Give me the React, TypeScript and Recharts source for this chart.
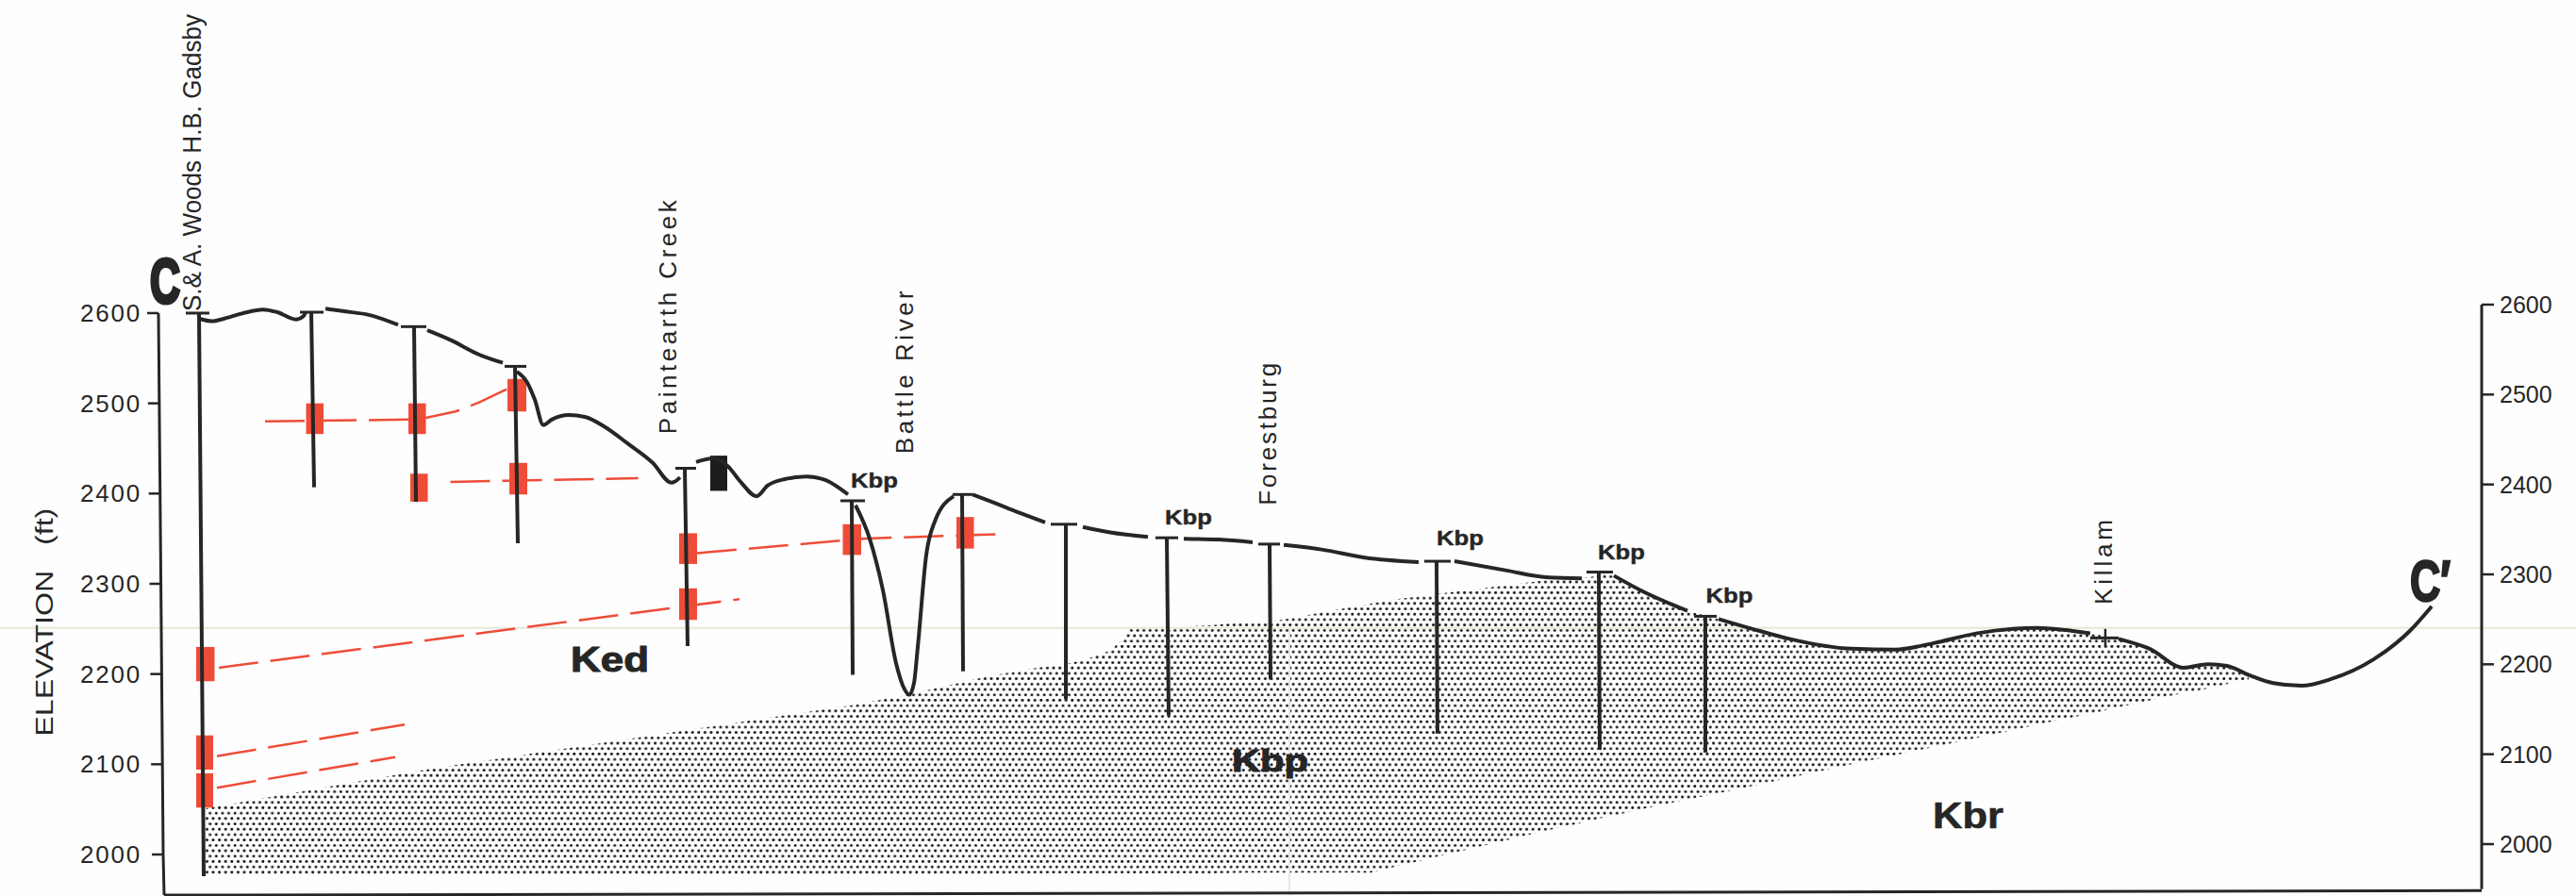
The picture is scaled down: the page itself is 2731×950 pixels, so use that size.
/**
 * Geological cross-section C-C'
 * Elevation profile with wells, coal markers and the Kbp sandstone body
 */
import {
  ComposedChart,
  Line,
  Area,
  XAxis,
  YAxis,
  ReferenceArea,
  ReferenceDot,
  ReferenceLine,
} from 'recharts';

const WIDTH = 2731;
const HEIGHT = 950;
const INK = '#262626';
const RED = '#ee4c38';

const elevationTicks = [2000, 2100, 2200, 2300, 2400, 2500, 2600];

// Ground surface, broken where the well collars sit: [distance, elevation]
const surfaceSegments: number[][][] = [
  [[37, 2594], [51, 2591], [64, 2594], [84, 2600], [105, 2604], [120, 2601], [140, 2593], [148, 2597], [150, 2601]],
  [[171, 2605], [191, 2602], [217, 2598], [248, 2587]],
  [[279, 2581], [304, 2570], [334, 2554], [359, 2545]],
  [[374, 2535], [385, 2523], [393, 2504], [402, 2476], [411, 2482], [429, 2487], [446, 2485], [467, 2474], [492, 2455], [518, 2434], [538, 2412], [547, 2418]],
  [[564, 2435], [582, 2439], [597, 2431], [612, 2412], [628, 2397], [640, 2409], [658, 2416], [681, 2419], [701, 2415], [725, 2399]],
  [[733, 2387], [748, 2350], [762, 2293], [776, 2212], [785, 2183], [790, 2177], [795, 2190], [799, 2230], [808, 2332], [817, 2369], [837, 2397]],
  [[857, 2399], [877, 2391], [906, 2379], [934, 2368]],
  [[974, 2363], [1003, 2357], [1043, 2352]],
  [[1081, 2350], [1118, 2349], [1154, 2346]],
  [[1187, 2343], [1227, 2338], [1273, 2329], [1330, 2324]],
  [[1368, 2325], [1422, 2315], [1468, 2307], [1503, 2306]],
  [[1537, 2309], [1565, 2293], [1615, 2270]],
  [[1648, 2261], [1684, 2250], [1723, 2239], [1789, 2228], [1835, 2227], [1875, 2234], [1921, 2245], [1960, 2250], [1986, 2251], [2013, 2249], [2042, 2245]],
  [[2072, 2239], [2105, 2228], [2141, 2207], [2167, 2211], [2187, 2209], [2210, 2199], [2236, 2190], [2266, 2187], [2296, 2194], [2342, 2216], [2381, 2248], [2404, 2275]],
];

// Wells: [top distance, top elevation, bottom distance, bottom elevation]
const wells: number[][] = [
  [37, 2600, 42, 1976],
  [156, 2601, 159, 2407],
  [265, 2585, 267, 2391],
  [372, 2541, 375, 2345],
  [552, 2428, 555, 2231],
  [729, 2392, 730, 2199],
  [846, 2399, 847, 2203],
  [956, 2366, 956, 2172],
  [1063, 2351, 1065, 2154],
  [1172, 2344, 1173, 2194],
  [1349, 2325, 1350, 2134],
  [1521, 2313, 1522, 2116],
  [1634, 2264, 1634, 2113],
  [2058, 2250, 2058, 2230],
];

// Collar bars: [from distance, to distance, elevation]
const collars: number[][] = [
  [23, 48, 2600], [144, 169, 2601], [251, 278, 2585], [361, 384, 2541],
  [542, 564, 2428], [717, 743, 2392], [836, 857, 2399], [940, 968, 2366],
  [1051, 1075, 2351], [1160, 1183, 2344], [1336, 1364, 2325], [1508, 1536, 2313],
  [1622, 1646, 2264], [2042, 2072, 2240],
];

// Coal zones: [from distance, to distance, lower elevation, upper elevation]
const coalZones: number[][] = [
  [150.5, 169, 2466, 2500], [259, 277.5, 2466, 2500], [364, 384, 2491, 2527],
  [261, 279.5, 2391, 2422], [366, 385, 2399, 2434], [546, 565, 2322, 2356],
  [546, 565, 2260, 2295], [34, 53.5, 2192, 2230], [34, 52, 2094, 2132],
  [34, 52, 2052, 2090], [719.5, 739, 2332, 2366], [840, 858.5, 2339, 2374],
];
const blackZone = [579, 597, 2403, 2442];

// Coal correlation lines: [distance, elevation]
const correlations: number[][][] = [
  [[107, 2480], [259, 2482], [277.5, 2484], [309, 2491], [334, 2501], [364, 2516]],
  [[303.5, 2413], [502.5, 2417]],
  [[565, 2334], [719.5, 2348], [739, 2350], [888, 2355]],
  [[58, 2207], [610, 2283]],
  [[56, 2109], [255, 2144]],
  [[56, 2074], [245, 2108]],
];

// Kbp sandstone body
const kbpDistance = [44, 283, 726, 788, 876, 926, 956, 979, 1003, 1016, 1023, 1063, 1109, 1153, 1169, 1279, 1307, 1480, 1503, 1526, 1537, 1565, 1615, 1648, 1684, 1723, 1789, 1835, 1875, 1921, 1960, 1986, 2013, 2042, 2072, 2105, 2141, 2167, 2187, 2210];
const kbpTop = [2051, 2095, 2165, 2177, 2198, 2207, 2211, 2217, 2226, 2238, 2250, 2252, 2254, 2258, 2257, 2278, 2283, 2306, 2306, 2310, 2309, 2293, 2270, 2261, 2250, 2239, 2228, 2227, 2234, 2245, 2250, 2251, 2249, 2245, 2239, 2228, 2207, 2211, 2209, 2199];
const kbpBase = [1978, 1978, 1978, 1978, 1978, 1979, 1979, 1979, 1979, 1979, 1979, 1979, 1979, 1980, 1980, 1980, 1987, 2030, 2035, 2041, 2043, 2050, 2061, 2068, 2076, 2085, 2100, 2110, 2119, 2129, 2138, 2144, 2150, 2156, 2163, 2171, 2179, 2184, 2189, 2194];

// Frame lines, in axis units
const leftFrame = [[-6, 2600], [-3, 2250], [-1, 2000], [0, 1955]];
const rightFrame = [[2457, 2600], [2457, 1950]];
const bottomFrame = [[0, 1955], [2457, 1960]];

const placeLabels = ['Paintearth Creek', 'Battle River', 'Forestburg', 'Killam'];
const placeAnchors = [[543, 2466], [794, 2444], [1179, 2387], [2065, 2277]];
const placeLengths = [248, 173, 151, 90];

const kbpAnchors = [[728, 2407], [1061, 2366], [1349, 2343], [1520, 2327], [1634.5, 2279]];

const asPoints = (pts: number[][]) => pts.map(([x, e]) => ({ x, e }));
const kbpRows = kbpDistance.map((x, i) => ({ x, band: [kbpBase[i], kbpTop[i]] }));

interface NoteProps {
  cx?: number;
  cy?: number;
  text: string;
  size: number;
  length: number;
  bold?: boolean;
  vertical?: boolean;
  spaced?: boolean;
  thick?: number;
}

function Note({ cx = 0, cy = 0, text, size, length, bold, vertical, spaced, thick }: NoteProps) {
  return (
    <text
      x={cx}
      y={cy}
      fontFamily='"Liberation Sans", Arial, sans-serif'
      fontSize={size}
      fontWeight={bold ? 700 : 400}
      fill={INK}
      stroke={thick ? INK : 'none'}
      strokeWidth={thick ?? 0}
      textLength={length}
      lengthAdjust={spaced ? 'spacing' : 'spacingAndGlyphs'}
      transform={vertical ? `rotate(-90 ${cx} ${cy})` : undefined}
      style={{ whiteSpace: 'pre' }}
    >
      {text}
    </text>
  );
}

// The printed left axis leans a few pixels, so its ticks follow it
function LeftTick({ x, y, payload }: { x?: number; y?: number; payload?: { value: number } }) {
  const lean = (2600 - (payload?.value ?? 2600)) / 120;
  const edge = 168 + lean;
  return (
    <g>
      <line x1={edge - 12} x2={edge} y1={y} y2={y} stroke={INK} strokeWidth={2.5} />
      <text
        x={x}
        y={y}
        dy={9}
        textAnchor="end"
        fontFamily='"Liberation Sans", Arial, sans-serif'
        fontSize={26}
        letterSpacing={1.8}
        fill={INK}
      >
        {payload?.value}
      </text>
    </g>
  );
}

function note(key: string, x: number, e: number, props: NoteProps) {
  return (
    <ReferenceDot
      key={key}
      x={x}
      y={e}
      yAxisId="left"
      r={0}
      ifOverflow="visible"
      shape={(p: { cx?: number; cy?: number }) => <Note {...props} cx={p.cx} cy={p.cy} />}
    />
  );
}

function plainLine(key: string, pts: number[][], width: number, extra: Record<string, unknown> = {}) {
  return (
    <Line
      key={key}
      data={asPoints(pts)}
      dataKey="e"
      yAxisId="left"
      stroke={INK}
      strokeWidth={width}
      dot={false}
      activeDot={false}
      legendType="none"
      isAnimationActive={false}
      {...extra}
    />
  );
}

export default function App() {
  return (
    <div style={{ position: 'absolute', left: 0, top: 0, width: WIDTH, height: HEIGHT, background: '#fefefe' }}>
      <ComposedChart width={WIDTH} height={HEIGHT} margin={{ top: 0, right: 0, bottom: 0, left: 0 }}>
        <defs>
          <pattern id="stipple" width={6.6} height={11.4} patternUnits="userSpaceOnUse">
            <circle cx={1.6} cy={1.4} r={1.5} fill="#151515" />
            <circle cx={4.9} cy={7.1} r={1.5} fill="#151515" />
          </pattern>
        </defs>

        <XAxis dataKey="x" type="number" domain={[-6, 2457]} hide />
        <YAxis
          yAxisId="left"
          width={168}
          domain={[1954, 2947]}
          ticks={elevationTicks}
          axisLine={false}
          tickLine={false}
          tickSize={12}
          tickMargin={6}
          tick={<LeftTick />}
        />
        <YAxis
          yAxisId="right"
          orientation="right"
          width={100}
          domain={[1942.3, 2938.8]}
          ticks={elevationTicks}
          axisLine={false}
          tickSize={13}
          tickMargin={6}
          tickLine={{ stroke: INK, strokeWidth: 2.5 }}
          tick={{ fill: INK, fontSize: 25, fontFamily: '"Liberation Sans", Arial, sans-serif' }}
        />

        {/* Fold lines of the scanned sheet */}
        <ReferenceLine
          yAxisId="left"
          ifOverflow="visible"
          segment={[{ x: -174, y: 2251 }, { x: 2557, y: 2251 }]}
          stroke="#e6e8da"
          strokeWidth={2}
        />
        <ReferenceLine
          yAxisId="left"
          ifOverflow="visible"
          segment={[{ x: 1193, y: 2251 }, { x: 1193, y: 1955 }]}
          stroke="#e6e6e6"
          strokeWidth={2}
        />

        <Area
          data={kbpRows}
          dataKey="band"
          yAxisId="left"
          type="linear"
          stroke="none"
          fill="url(#stipple)"
          fillOpacity={1}
          dot={false}
          activeDot={false}
          legendType="none"
          isAnimationActive={false}
        />

        {coalZones.map(([x1, x2, y1, y2], i) => (
          <ReferenceArea
            key={`coal-${i}`}
            yAxisId="left"
            x1={x1}
            x2={x2}
            y1={y1}
            y2={y2}
            fill={RED}
            fillOpacity={1}
            stroke="none"
            ifOverflow="visible"
          />
        ))}
        <ReferenceArea
          yAxisId="left"
          x1={blackZone[0]}
          x2={blackZone[1]}
          y1={blackZone[2]}
          y2={blackZone[3]}
          fill="#1d1d1d"
          fillOpacity={1}
          stroke="none"
          ifOverflow="visible"
        />

        {correlations.map((pts, i) =>
          plainLine(`corr-${i}`, pts, 2.5, { stroke: RED, strokeDasharray: '42 13', type: 'linear' }),
        )}

        {surfaceSegments.map((pts, i) => plainLine(`surface-${i}`, pts, 4, { type: 'monotone' }))}

        {wells.map(([x1, e1, x2, e2], i) =>
          plainLine(`well-${i}`, [[x1, e1], [x2, e2]], i === 13 ? 2.5 : 4),
        )}
        {collars.map(([x1, x2, e], i) => plainLine(`collar-${i}`, [[x1, e], [x2, e]], 3))}

        {plainLine('left-frame', leftFrame, 3)}
        {plainLine('bottom-frame', bottomFrame, 3)}
        {plainLine('right-frame', rightFrame, 3, { yAxisId: 'right' })}

        {note('gadsby', 39, 2602, { text: 'S.& A. Woods H.B. Gadsby', size: 27, length: 315, vertical: true })}
        {placeLabels.map((text, i) =>
          note(`place-${i}`, placeAnchors[i][0], placeAnchors[i][1], {
            text,
            size: 26,
            length: placeLengths[i],
            vertical: true,
            spaced: true,
          }),
        )}
        {note('y-title', -118, 2131, { text: 'ELEVATION   (ft)', size: 26, length: 242, vertical: true })}
        {kbpAnchors.map(([x, e], i) =>
          note(`kbp-${i}`, x, e, { text: 'Kbp', size: 22, length: 50, bold: true, thick: 0.4 }),
        )}
        {note('kbp-big', 1132, 2092, { text: 'Kbp', size: 34, length: 81, bold: true, thick: 1 })}
        {note('ked', 431, 2203, { text: 'Ked', size: 37, length: 83, bold: true, thick: 1 })}
        {note('kbr', 1875, 2029, { text: 'Kbr', size: 39, length: 75, bold: true, thick: 0.6 })}
        {note('c-start', -15, 2611.5, { text: 'C', size: 66, length: 32, bold: true, thick: 4 })}
        {note('c-end', 2381, 2281, { text: 'C′', size: 62, length: 43, bold: true, thick: 2.5 })}
      </ComposedChart>
    </div>
  );
}
